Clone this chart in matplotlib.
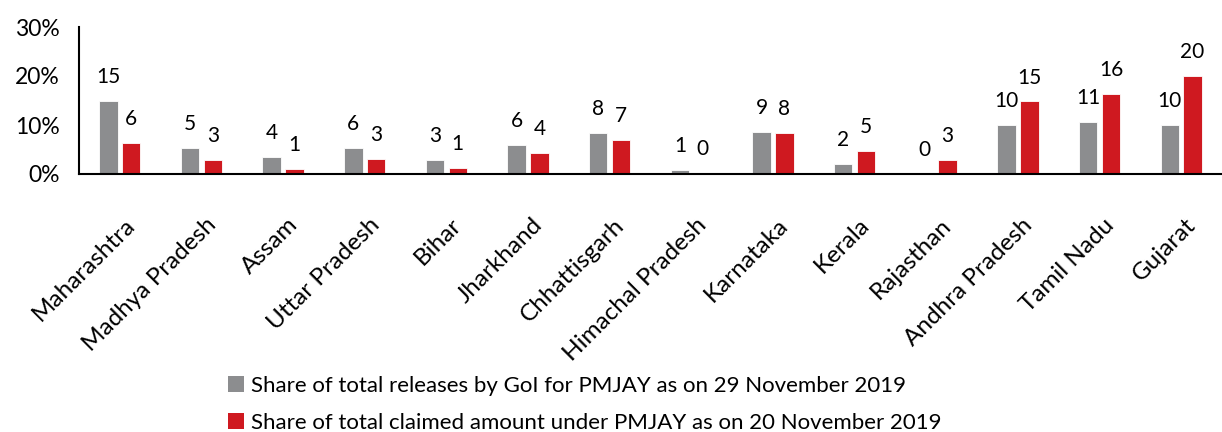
import matplotlib
matplotlib.use("Agg")
import matplotlib.pyplot as plt
import matplotlib.transforms as mtransforms
import numpy as np
from matplotlib.patches import Patch

plt.rcParams['font.family'] = ['Lato', 'DejaVu Sans']

states = ["Maharashtra", "Madhya Pradesh", "Assam", "Uttar Pradesh", "Bihar",
          "Jharkhand", "Chhattisgarh", "Himachal Pradesh", "Karnataka", "Kerala",
          "Rajasthan", "Andhra Pradesh", "Tamil Nadu", "Gujarat"]
releases = [15.0, 5.4, 3.5, 5.4, 2.9, 5.9, 8.4, 0.9, 8.6, 2.1, 0.0, 10.1, 10.6, 10.1]
claims = [6.3, 2.9, 1.1, 3.1, 1.2, 4.3, 6.9, 0.3, 8.4, 4.7, 2.9, 14.8, 16.4, 20.1]
release_labels = ["15", "5", "4", "6", "3", "6", "8", "1", "9", "2", "0", "10", "11", "10"]
claim_labels = ["6", "3", "1", "3", "1", "4", "7", "0", "8", "5", "3", "15", "16", "20"]
yticks = [0, 10, 20, 30]
ytick_labels = ["0%", "10%", "20%", "30%"]
legend_labels = ["Share of total releases by GoI for PMJAY as on 29 November 2019",
                 "Share of total claimed amount under PMJAY as on 20 November 2019"]

GREY = "#8c8d8f"
RED = "#cf1920"

fig = plt.figure(figsize=(12.22, 4.32), dpi=100)
ax = fig.add_axes([79/1222, 1-174/432, 1-79/1222, (174-27)/432])

x = np.arange(len(states))
w = 0.225
off = 0.14
ax.bar(x - off, releases, w, color=GREY, edgecolor="white", linewidth=0.6)
ax.bar(x + off, claims, w, color=RED, edgecolor="white", linewidth=0.6)

for i in range(len(states)):
    ax.annotate(release_labels[i], (x[i] - off, releases[i]), xytext=(0, 10),
                textcoords="offset points", ha="center", va="bottom", fontsize=15)
    ax.annotate(claim_labels[i], (x[i] + off, claims[i]), xytext=(0, 10),
                textcoords="offset points", ha="center", va="bottom", fontsize=15)

ax.set_xlim(-0.5, len(states) - 0.5)
ax.set_ylim(0, 30)
ax.set_yticks(yticks)
ax.set_yticklabels(ytick_labels, fontsize=16.5)
ax.set_xticks(x)
ax.tick_params(axis="both", length=0)
ax.tick_params(axis="x", pad=29)
ax.tick_params(axis="y", pad=14)
ax.set_xticklabels(states, rotation=45, ha="right", va="top", rotation_mode="anchor",
                   fontsize=17.5)
shift = mtransforms.ScaledTranslation(4/100, 0, fig.dpi_scale_trans)
for lbl in ax.get_xticklabels():
    lbl.set_transform(lbl.get_transform() + shift)
for s in ["top", "right"]:
    ax.spines[s].set_visible(False)
for s in ["left", "bottom"]:
    ax.spines[s].set_linewidth(1.5)
    ax.spines[s].set_color("black")

handles = [Patch(facecolor=GREY), Patch(facecolor=RED)]
fig.legend(handles, legend_labels, loc="upper left", bbox_to_anchor=(228/1222, 1-376/432),
           frameon=False, fontsize=16, handlelength=0.7, handleheight=0.7,
           handletextpad=0.35, labelspacing=0.75, borderpad=0, borderaxespad=0)

fig.savefig("out.png", dpi=100)
